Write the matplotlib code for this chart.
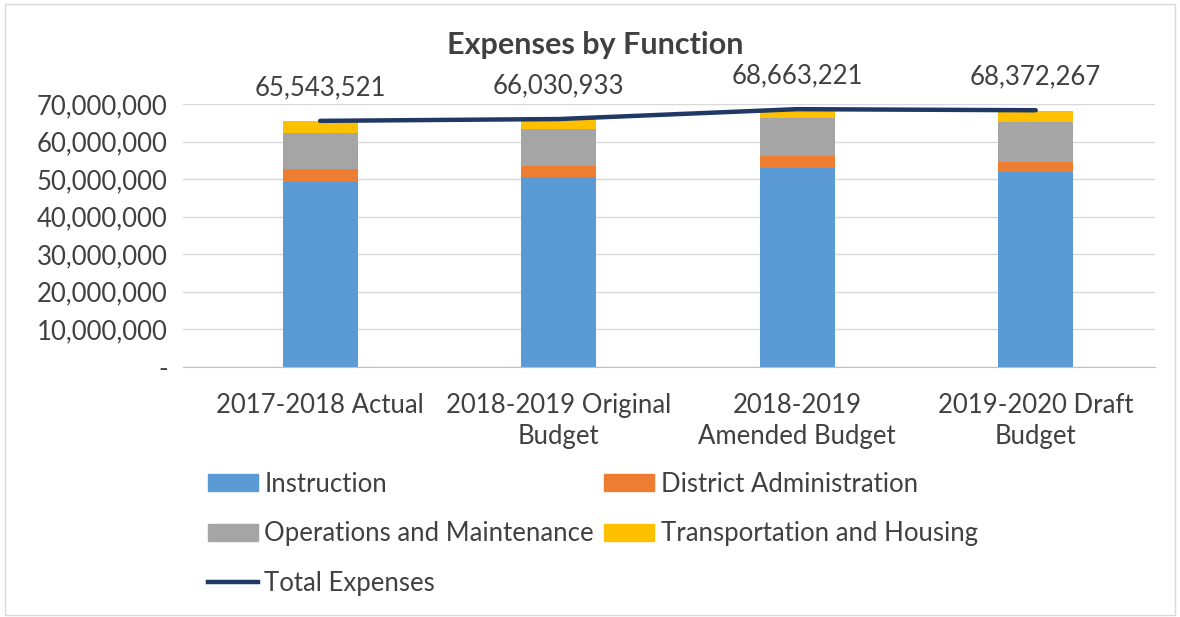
import matplotlib.pyplot as plt
from matplotlib.patches import Patch
from matplotlib.lines import Line2D

plt.rcParams['font.family'] = ['Lato', 'DejaVu Sans']

categories = ["2017-2018 Actual", "2018-2019 Original\nBudget",
              "2018-2019\nAmended Budget", "2019-2020 Draft\nBudget"]
instruction = [49.3e6, 50.5e6, 52.9e6, 52.0e6]
district_admin = [3.3e6, 3.0e6, 3.2e6, 2.5e6]
operations = [9.8e6, 9.8e6, 10.3e6, 10.8e6]
transport = [3.1e6, 2.7e6, 2.3e6, 3.0e6]
totals = [65543521, 66030933, 68663221, 68372267]

colors = ["#5B9BD5", "#ED7D31", "#A5A5A5", "#FFC000"]
line_color = "#1F3864"
txt = "#404040"
fs = 18.5

fig = plt.figure(figsize=(11.8, 6.17), dpi=100)
ax = fig.add_axes([183 / 1180, 0.4057, 972 / 1180, 0.4255])

x = list(range(len(categories)))
w = 0.314
bottom = [0] * 4
series = [instruction, district_admin, operations, transport]
for vals, c in zip(series, colors):
    ax.bar(x, vals, w, bottom=bottom, color=c, zorder=2)
    bottom = [b + v for b, v in zip(bottom, vals)]

ax.plot(x, totals, color=line_color, lw=3.2, solid_capstyle='round', zorder=3)
for xi, t in zip(x, totals):
    ax.annotate(f"{t:,}", (xi, t), xytext=(0, 24), textcoords='offset points',
                ha='center', va='center', fontsize=fs, color=txt,
                annotation_clip=False)

ax.set_xlim(-0.575, 3.5)
ax.set_ylim(0, 70e6)
yt = [i * 10e6 for i in range(8)]
ax.set_yticks(yt)
ax.set_yticklabels(["-"] + [f"{int(v):,}" for v in yt[1:]], fontsize=fs, color=txt)
ax.set_xticks(x)
ax.set_xticklabels(categories, fontsize=fs, color=txt, linespacing=1.3)
ax.tick_params(axis='y', length=0, pad=11)
ax.tick_params(axis='x', length=0, pad=19)
ax.grid(axis='y', color="#D9D9D9", lw=1, zorder=0)
for s in ['top', 'right', 'left']:
    ax.spines[s].set_visible(False)
ax.spines['bottom'].set_color("#BFBFBF")

fig.text(595 / 1180, 1 - 45 / 617, "Expenses by Function", ha='center', va='center',
         fontsize=22, fontweight='bold', color=txt)

handles = [Patch(color=colors[0], label="Instruction"),
           Patch(color=colors[2], label="Operations and Maintenance"),
           Line2D([], [], color=line_color, lw=3.2, label="Total Expenses"),
           Patch(color=colors[1], label="District Administration"),
           Patch(color=colors[3], label="Transportation and Housing")]
fig.legend(handles=handles, ncol=2, loc='upper left',
           bbox_to_anchor=(195 / 1180, 1 - 459 / 617), frameon=False,
           fontsize=fs, labelcolor=txt, handlelength=1.95, handleheight=0.62,
           handletextpad=0.25, columnspacing=0.4, labelspacing=0.95, borderpad=0)

fig.patches.append(plt.Rectangle((0.004, 0.004), 0.992, 0.99, transform=fig.transFigure,
                                 fill=False, edgecolor="#D9D9D9", lw=1))

fig.savefig("out.png", dpi=100)
